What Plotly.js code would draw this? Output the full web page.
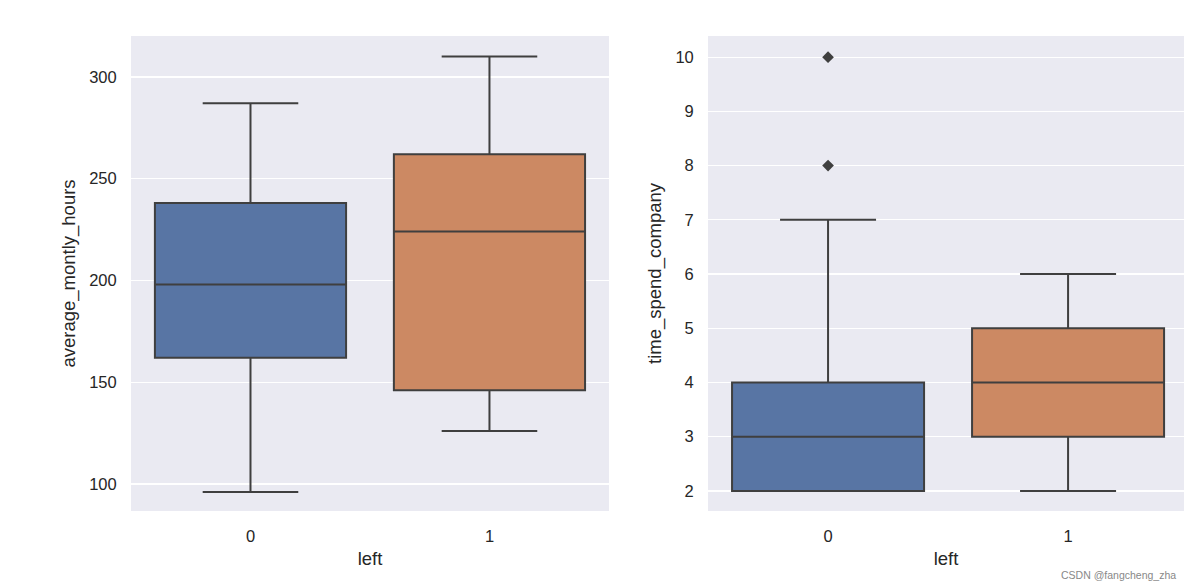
<!DOCTYPE html>
<html>
<head>
<meta charset="utf-8">
<script src="https://cdn.plot.ly/plotly-3.0.1.min.js"></script>
<style>html,body{margin:0;padding:0;background:#fff;}#chart{width:1184px;height:586px;}</style>
</head>
<body>
<div id="chart"></div>
<script>
// Categories
const groups = [0, 1];
const groupLabels = ['0', '1'];
const groupColors = ['#5875a4', '#cc8963'];

// average_montly_hours stats per group (lower whisker, q1, median, q3, upper whisker)
const hoursLow = [96, 126];
const hoursQ1 = [162, 146];
const hoursMed = [198, 224];
const hoursQ3 = [238, 262];
const hoursHigh = [287, 310];

// time_spend_company stats per group
const tenureLow = [2, 2];
const tenureQ1 = [2, 3];
const tenureMed = [3, 4];
const tenureQ3 = [4, 5];
const tenureHigh = [7, 6];
// outliers (group 0)
const tenureOutlierX = [0, 0];
const tenureOutlierY = [8, 10];

const lineCol = '#3f3f3f';
const traces = [];
groups.forEach((g, i) => {
  traces.push({
    type: 'box', x: [g], q1: [hoursQ1[i]], median: [hoursMed[i]], q3: [hoursQ3[i]],
    lowerfence: [hoursLow[i]], upperfence: [hoursHigh[i]], width: 0.8,
    fillcolor: groupColors[i], line: {color: lineCol, width: 2}, whiskerwidth: 0.5,
    xaxis: 'x', yaxis: 'y', showlegend: false, hoverinfo: 'skip'
  });
  traces.push({
    type: 'box', x: [g], q1: [tenureQ1[i]], median: [tenureMed[i]], q3: [tenureQ3[i]],
    lowerfence: [tenureLow[i]], upperfence: [tenureHigh[i]], width: 0.8,
    fillcolor: groupColors[i], line: {color: lineCol, width: 2}, whiskerwidth: 0.5,
    xaxis: 'x2', yaxis: 'y2', showlegend: false, hoverinfo: 'skip'
  });
});
traces.push({
  type: 'scatter', mode: 'markers', x: tenureOutlierX, y: tenureOutlierY,
  marker: {symbol: 'diamond', color: lineCol, size: 9},
  xaxis: 'x2', yaxis: 'y2', showlegend: false, hoverinfo: 'skip'
});

const txtCol = '#262626';
const font = {family: 'Liberation Sans, Arial, sans-serif', size: 16, color: txtCol};
const xcommon = {
  tickvals: groups, ticktext: groupLabels, showgrid: false, zeroline: false,
  ticks: 'outside', ticklen: 10, tickcolor: 'rgba(0,0,0,0)',
  tickfont: {size: 16.5, color: txtCol},
  title: {text: 'left', font: {size: 18.5, color: txtCol}, standoff: 8}
};
const ycommon = {
  showgrid: true, gridcolor: '#ffffff', gridwidth: 1.2, zeroline: false,
  ticks: 'outside', ticklen: 10, tickcolor: 'rgba(0,0,0,0)',
  tickfont: {size: 16.5, color: txtCol}
};
const layout = {
  width: 1184, height: 586,
  margin: {l: 131, r: 0, t: 36, b: 75},
  paper_bgcolor: '#ffffff', plot_bgcolor: '#eaeaf2',
  font: font, boxmode: 'overlay',
  xaxis: Object.assign({}, xcommon, {domain: [0, 0.4539], range: [-0.5, 1.5], anchor: 'y'}),
  yaxis: Object.assign({}, ycommon, {range: [86.7, 320.1], tickvals: [100, 150, 200, 250, 300], anchor: 'x',
    title: {text: 'average_montly_hours', font: {size: 18.5, color: txtCol}, standoff: 8}}),
  xaxis2: Object.assign({}, xcommon, {domain: [0.548, 1], range: [-0.5, 1.483], anchor: 'y2'}),
  yaxis2: Object.assign({}, ycommon, {range: [1.63, 10.39], tickvals: [2,3,4,5,6,7,8,9,10], anchor: 'x2',
    title: {text: 'time_spend_company', font: {size: 18.5, color: txtCol}, standoff: 8}}),
  annotations: [{
    text: 'CSDN @fangcheng_zha', xref: 'paper', yref: 'paper', x: 1, y: -0.135,
    xanchor: 'right', yanchor: 'middle', showarrow: false,
    font: {size: 10.5, color: '#888888'}, xshift: -6
  }]
};
Plotly.newPlot('chart', traces, layout, {staticPlot: true, displayModeBar: false});
</script>
</body>
</html>
